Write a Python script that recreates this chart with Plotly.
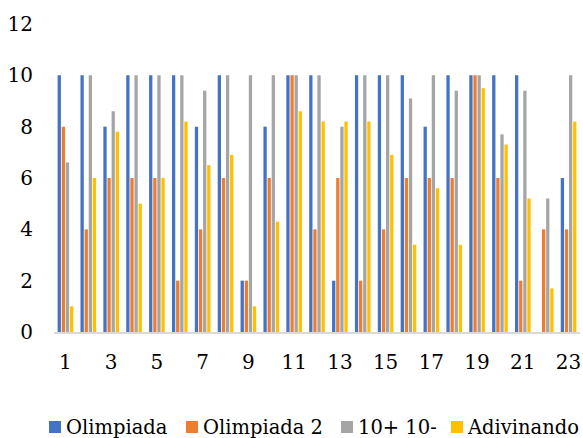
import plotly.graph_objects as go

# Scores for each of the 23 rounds, one list per game mode
rounds = list(range(1, 24))
series_names = ["Olimpiada", "Olimpiada 2", "10+ 10-", "Adivinando"]
olimpiada = [10, 10, 8, 10, 10, 10, 8, 10, 2, 8, 10, 10, 2, 10, 10, 10, 8, 10, 10, 10, 10, 0, 6]
olimpiada_2 = [8, 4, 6, 6, 6, 2, 4, 6, 2, 6, 10, 4, 6, 2, 4, 6, 6, 6, 10, 6, 2, 4, 4]
diez_mas_menos = [6.6, 10, 8.6, 10, 10, 10, 9.4, 10, 10, 10, 10, 10, 8, 10, 10, 9.1, 10, 9.4, 10, 7.7, 9.4, 5.2, 10]
adivinando = [1, 6, 7.8, 5, 6, 8.2, 6.5, 6.9, 1, 4.3, 8.6, 8.2, 8.2, 8.2, 6.9, 3.4, 5.6, 3.4, 9.5, 7.3, 5.2, 1.7, 8.2]
y_ticks = [0, 2, 4, 6, 8, 10, 12]
x_ticks = [1, 3, 5, 7, 9, 11, 13, 15, 17, 19, 21, 23]

colors = ["#4472C4", "#ED7D31", "#A5A5A5", "#FFC000"]
all_values = [olimpiada, olimpiada_2, diez_mas_menos, adivinando]

FONT = "DejaVu Serif"

fig = go.Figure()
for name, vals, col in zip(series_names, all_values, colors):
    fig.add_trace(go.Bar(x=rounds, y=vals, name=name, marker_color=col,
                         marker_line_width=0, showlegend=False))

W, H = 583, 438
L, R, T, B = 54, 3, 24, 106
pw, ph = W - L - R, H - T - B

# Legend drawn as coloured squares with labels below the plot
legend_sq_x = [49, 186, 341, 451]
legend_txt_x = [65, 202, 357, 466]
legend_y = 427
for name, col, sx, tx in zip(series_names, colors, legend_sq_x, legend_txt_x):
    fig.add_shape(type="rect", xref="paper", yref="paper",
                  x0=(sx - L) / pw, x1=(sx + 12 - L) / pw,
                  y0=(H - B - (legend_y + 6)) / ph, y1=(H - B - (legend_y - 6)) / ph,
                  fillcolor=col, line_width=0)
    fig.add_annotation(xref="paper", yref="paper", x=(tx - L) / pw,
                       y=(H - B - legend_y) / ph, text=name, showarrow=False,
                       xanchor="left", yanchor="middle", borderpad=0,
                       font=dict(family=FONT, size=19.5, color="#000000"))

fig.update_layout(
    width=W, height=H,
    margin=dict(l=L, r=R, t=T, b=B),
    paper_bgcolor="white", plot_bgcolor="white",
    barmode="group", bargap=0.28, bargroupgap=0.2,
    font=dict(family=FONT, size=20, color="#000000"),
)
fig.update_xaxes(range=[0.5, 23.5], tickmode="array", tickvals=x_ticks,
                 ticktext=[str(v) for v in x_ticks],
                 showline=True, linecolor="#D9D9D9", linewidth=1.5,
                 showgrid=False, zeroline=False, ticks="", ticklabelstandoff=11)
fig.update_yaxes(range=[0, 12], tickmode="array", tickvals=y_ticks,
                 showline=False, showgrid=False, zeroline=False, ticks="",
                 ticklabelstandoff=20)

fig.write_html("out.html")
